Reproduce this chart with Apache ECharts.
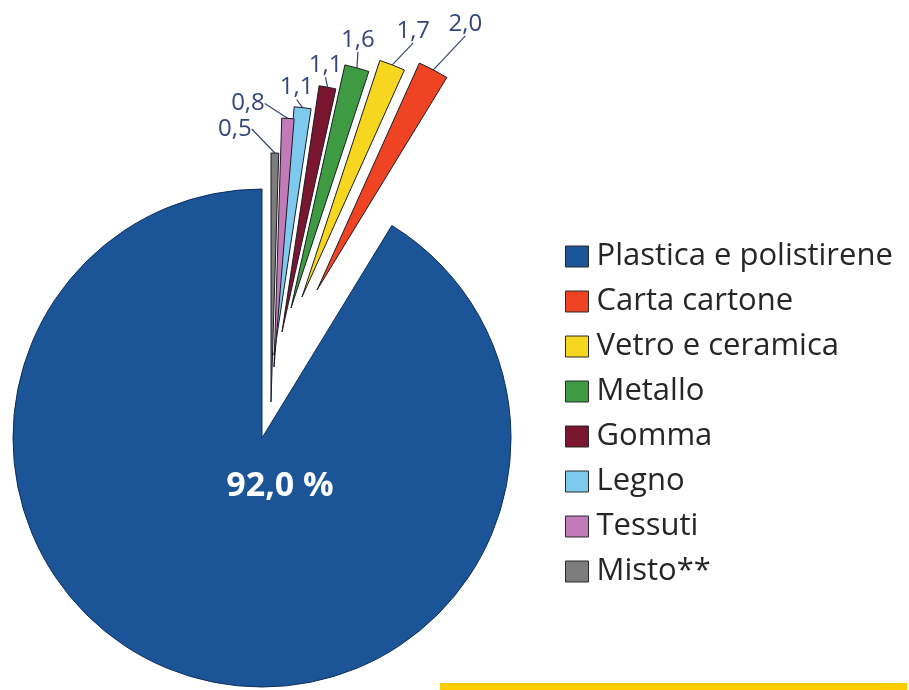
<!DOCTYPE html>
<html>
<head>
<meta charset="utf-8">
<script src="https://cdn.jsdelivr.net/npm/echarts@6/dist/echarts.min.js"></script>
<style>
  html, body { margin: 0; padding: 0; background: #ffffff; }
  #chart { width: 909px; height: 690px; }
</style>
</head>
<body>
<div id="chart"></div>
<script>
// Composition of collected waste by material (%)
const categories = [
  'Plastica e polistirene',
  'Carta cartone',
  'Vetro e ceramica',
  'Metallo',
  'Gomma',
  'Legno',
  'Tessuti',
  'Misto**'
];
const shares = [92.0, 2.0, 1.7, 1.6, 1.1, 1.1, 0.8, 0.5];

// Styling
const sliceColors = ['#1b5597', '#ef4424', '#f6d61e', '#3e9b42', '#7a1630', '#7ec9ee', '#c27bb7', '#7d7d7d'];
// how far each slice is pulled out of the pie (px, x / y)
const pullX = [0, 55, 40, 29, 20, 12, 12, 9];
const pullY = [0, -148, -141, -130, -106, -83, -71, -36];
// where each value label sits, relative to the outer edge of its slice
const labelShift = [[0, 0], [32, -46], [21, -34], [1, -28], [-2, -22], [-6, -20], [-40, -15], [-40, -24]];

const PIE_CENTER = [262, 438];
const PIE_RADIUS = 249;
const FONT = "'Open Sans', 'Noto Sans', sans-serif";

function fmt(v) {
  return v.toFixed(1).replace('.', ',');
}

// One pie layer per material, all sharing the same angles, so every slice
// can be pulled out on its own.
const series = categories.map(function (name, k) {
  const isMain = k === 0;
  return {
    type: 'pie',
    name: 'layer' + k,
    center: [PIE_CENTER[0] + pullX[k], PIE_CENTER[1] + pullY[k]],
    radius: PIE_RADIUS,
    startAngle: 90,
    clockwise: false,
    avoidLabelOverlap: false,
    animation: false,
    silent: true,
    emphasis: { disabled: true },
    z: 2 + k,
    label: isMain ? {
      show: true,
      position: 'center',
      color: '#ffffff',
      fontFamily: FONT,
      fontWeight: 'bold',
      fontSize: 34,
      formatter: function (p) { return fmt(p.value) + ' %'; }
    } : {
      show: true,
      position: 'outside',
      color: '#34467c',
      fontFamily: FONT,
      fontSize: 24,
      formatter: function (p) { return fmt(p.value); }
    },
    labelLine: {
      show: !isMain,
      length: 16,
      length2: 0,
      lineStyle: { color: '#3a4670', width: 1.2 }
    },
    labelLayout: function (p) {
      if (p.dataIndex !== k) return {};
      if (isMain) return { dx: 18, dy: 48 };
      const pts = p.labelLinePoints;
      if (!pts) return {};
      const edge = pts[0];
      return {
        x: edge[0] + labelShift[k][0],
        y: edge[1] + labelShift[k][1],
        align: 'center',
        verticalAlign: 'middle'
      };
    },
    data: categories.map(function (n, i) {
      const own = i === k;
      return {
        name: n,
        value: shares[i],
        itemStyle: own
          ? { color: sliceColors[i], borderColor: isMain ? '#0f2f5e' : '#1c1c24', borderWidth: 1 }
          : { color: 'rgba(0,0,0,0)', borderWidth: 0 },
        label: { show: own },
        labelLine: { show: own && !isMain }
      };
    })
  };
});

const chart = echarts.init(document.getElementById('chart'), null, { renderer: 'canvas' });
chart.setOption({
  backgroundColor: '#ffffff',
  animation: false,
  legend: {
    orient: 'vertical',
    left: 560,
    top: 236,
    icon: 'rect',
    itemWidth: 23,
    itemHeight: 21,
    itemGap: 14,
    selectedMode: false,
    textStyle: {
      fontFamily: FONT,
      fontSize: 31,
      color: '#262626',
      padding: [0, 0, 0, 3]
    },
    data: categories.map(function (n, i) {
      return {
        name: n,
        itemStyle: { color: sliceColors[i], borderColor: '#2a2a2a', borderWidth: 1 }
      };
    })
  },
  graphic: [{
    type: 'rect',
    left: 440,
    top: 683,
    shape: { width: 467, height: 7 },
    style: { fill: '#ffcc00' },
    silent: true
  }],
  series: series
});
</script>
</body>
</html>
